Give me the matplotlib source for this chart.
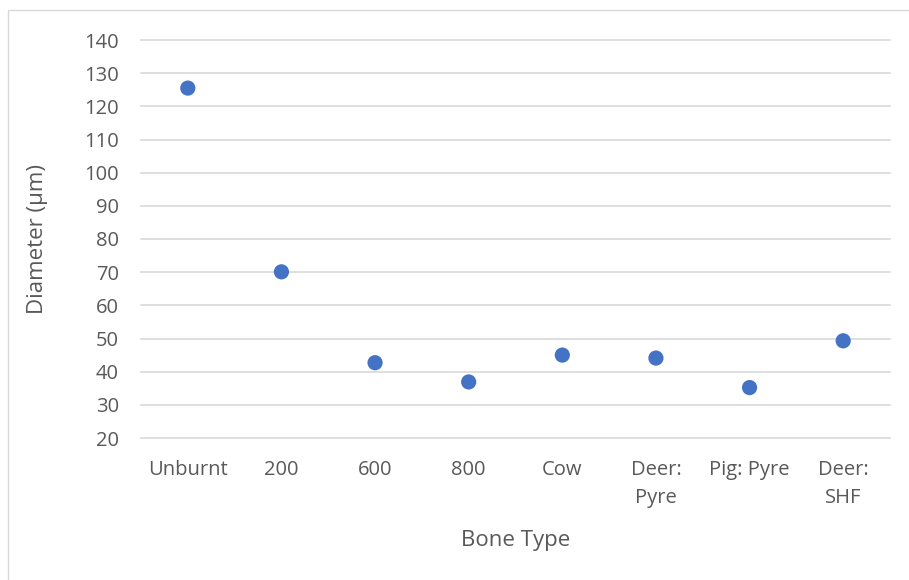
import matplotlib.pyplot as plt
from matplotlib.patches import Rectangle
import numpy as np

categories = ['Unburnt', '200', '600', '800', 'Cow', 'Deer:\nPyre', 'Pig: Pyre', 'Deer:\nSHF']
diameter = [125.5, 70.1, 42.7, 36.9, 45.0, 44.1, 35.2, 49.3]

plt.rcParams['font.family'] = ['Open Sans', 'DejaVu Sans']
grey = '#595959'

fig = plt.figure(figsize=(9.09, 5.8), dpi=100)
ax = fig.add_axes([141/909, 1 - 438/580, (890 - 141)/909, (438 - 40)/580])

# chart border like excel
fig.patches.append(Rectangle((8/909, -0.05), 1.05, 1 - 10/580 + 0.05, transform=fig.transFigure,
                             fill=False, edgecolor='#d9d9d9', linewidth=1))

x = np.arange(len(categories))
ax.scatter(x, diameter, s=120, color='#4472c4', zorder=3, edgecolors='none')

ax.set_xlim(-0.5, len(categories) - 0.5)
ax.set_ylim(20, 140)
ax.set_yticks(np.arange(20, 141, 10))
ax.set_xticks(x)
ax.set_xticklabels(categories, linespacing=1.5, va='top')
ax.grid(axis='y', color='#d9d9d9', linewidth=1.2)
for gl in ax.yaxis.get_gridlines():
    gl.set_clip_on(False)
ax.set_axisbelow(True)
for s in ax.spines.values():
    s.set_visible(False)
ax.tick_params(length=0, labelsize=14.5, labelcolor=grey)
ax.tick_params(axis='x', pad=16)
ax.tick_params(axis='y', pad=16)

ax.set_xlabel('Bone Type', fontsize=16, color=grey, labelpad=16)
ax.set_ylabel('Diameter (µm)', fontsize=16, color=grey, labelpad=26)

fig.savefig('out.png', dpi=100)
